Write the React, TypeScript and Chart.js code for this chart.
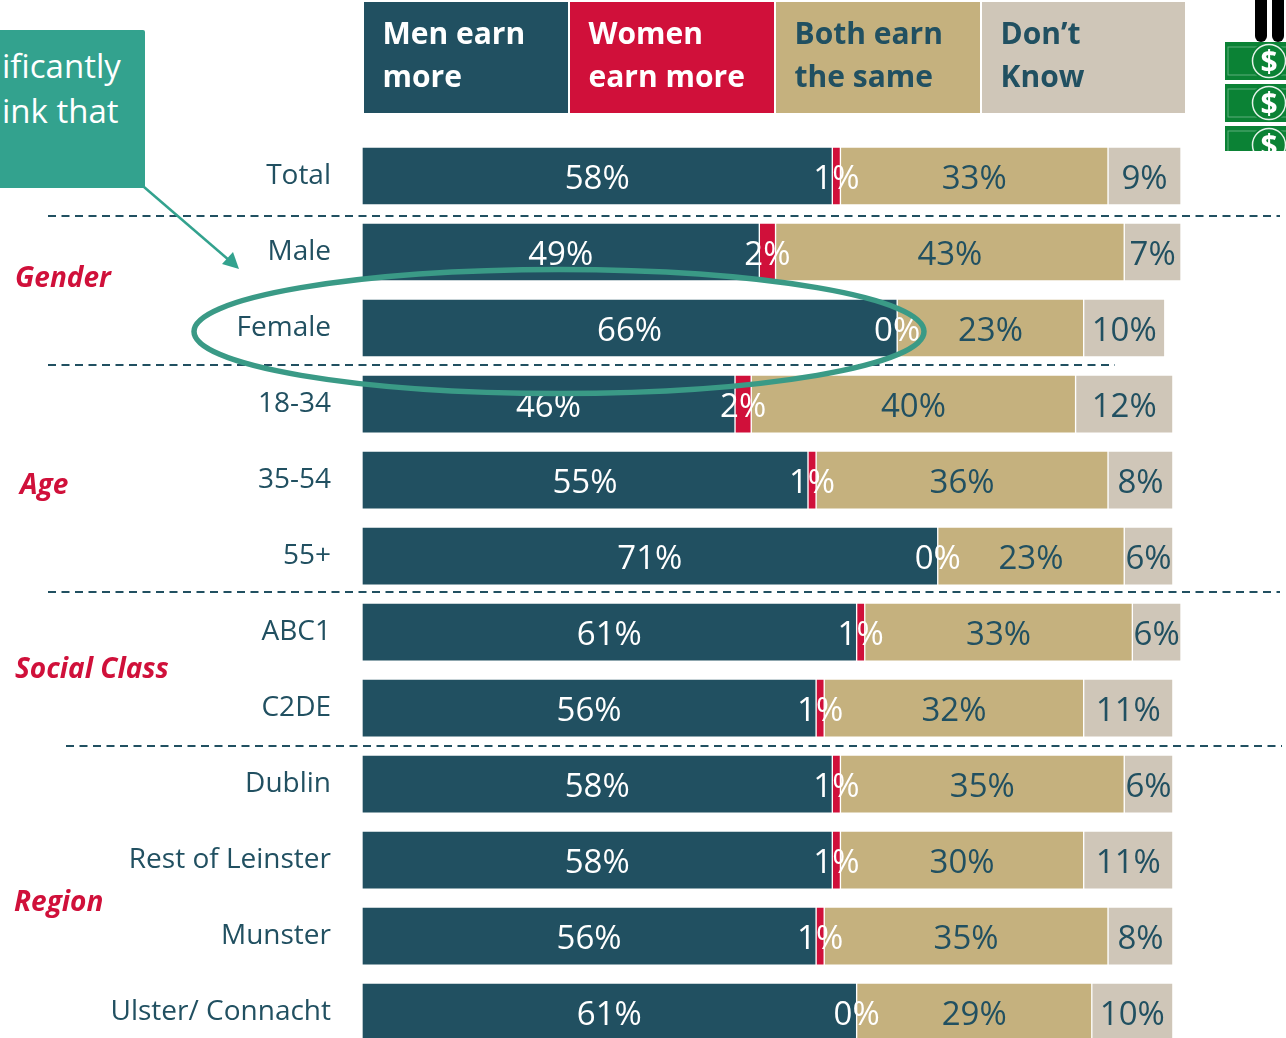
import React, { useEffect, useRef } from "react";
import { Chart, registerables } from "chart.js";

Chart.register(...registerables);

const categories = ["Total", "Male", "Female", "18-34", "35-54", "55+", "ABC1", "C2DE", "Dublin", "Rest of Leinster", "Munster", "Ulster/ Connacht"];
const menEarnMore = [58, 49, 66, 46, 55, 71, 61, 56, 58, 58, 56, 61];
const womenEarnMore = [1, 2, 0, 2, 1, 0, 1, 1, 1, 1, 1, 0];
const bothEarnSame = [33, 43, 23, 40, 36, 23, 33, 32, 35, 30, 35, 29];
const dontKnow = [9, 7, 10, 12, 8, 6, 6, 11, 6, 11, 8, 10];

const TEAL = "#215061";
const RED = "#d0103a";
const TAN = "#c5b17e";
const GREY = "#cfc6b8";
const GREEN = "#33a28e";
const RING = "#3a9a86";
const FONT = '"Open Sans", sans-serif';

const headers = [
  { lines: ["Men earn", "more"], bg: TEAL, fg: "#ffffff", left: 364, width: 204 },
  { lines: ["Women", "earn more"], bg: RED, fg: "#ffffff", left: 570, width: 204 },
  { lines: ["Both earn", "the same"], bg: TAN, fg: TEAL, left: 776, width: 204 },
  { lines: ["Don\u2019t", "Know"], bg: GREY, fg: TEAL, left: 982, width: 203 },
];
const groups = [
  { text: "Gender", left: 15, top: 276 },
  { text: "Age", left: 20, top: 483 },
  { text: "Social Class", left: 15, top: 667 },
  { text: "Region", left: 14, top: 900 },
];
const separators = [
  { y: 216, x1: 48, x2: 1280 },
  { y: 365, x1: 48, x2: 1115 },
  { y: 592, x1: 48, x2: 1280 },
  { y: 746, x1: 66, x2: 1282 },
];

const overlayPlugin = {
  id: "overlay",
  afterDatasetsDraw(chart: any) {
    const ctx = chart.ctx;
    ctx.save();
    // separators
    ctx.strokeStyle = TEAL;
    ctx.lineWidth = 1.8;
    ctx.setLineDash([8, 5.5]);
    separators.forEach((s) => {
      ctx.beginPath();
      ctx.moveTo(s.x1, s.y);
      ctx.lineTo(s.x2, s.y);
      ctx.stroke();
    });
    ctx.setLineDash([]);
    // value labels
    ctx.font = `33px ${FONT}`;
    ctx.textAlign = "center";
    ctx.textBaseline = "middle";
    chart.data.datasets.forEach((ds: any, i: number) => {
      const meta = chart.getDatasetMeta(i);
      ds.data.forEach((v: number, j: number) => {
        const el = meta.data[j];
        ctx.fillStyle = ds.labelColor;
        ctx.fillText(`${v}%`, (el.x + el.base) / 2, el.y + 3.5);
      });
    });
    // ring
    ctx.strokeStyle = RING;
    ctx.lineWidth = 5.5;
    ctx.beginPath();
    ctx.ellipse(559, 331.5, 365, 62, 0, 0, Math.PI * 2);
    ctx.stroke();
    // arrow
    ctx.strokeStyle = GREEN;
    ctx.fillStyle = GREEN;
    ctx.lineWidth = 2.5;
    ctx.beginPath();
    ctx.moveTo(144, 187);
    ctx.lineTo(230, 261);
    ctx.stroke();
    ctx.beginPath();
    ctx.moveTo(239, 269);
    ctx.lineTo(222, 264);
    ctx.lineTo(233, 252);
    ctx.closePath();
    ctx.fill();
    ctx.restore();
  },
};

function Bill({ y }: { y: number }) {
  return (
    <g>
      <rect x={1225} y={y} width={61} height={38} fill="#0b8235" />
      <rect x={1228} y={y + 5} width={60} height={28} fill="none" stroke="#5fae7c" strokeWidth={1} />
      <circle cx={1269} cy={y + 19} r={19} fill="#0b8235" />
      <circle cx={1269} cy={y + 19} r={16.5} fill="none" stroke="#e6f3ea" strokeWidth={1.5} />
      <text x={1269} y={y + 30} textAnchor="middle" fill="#ffffff" fontFamily={FONT} fontWeight={700} fontSize={30}>
        $
      </text>
    </g>
  );
}

export default function App() {
  const ref = useRef<HTMLCanvasElement>(null);

  useEffect(() => {
    document.body.style.margin = "0";
    const mk = (label: string, data: number[], bg: string, labelColor: string) => ({
      label,
      data,
      backgroundColor: bg,
      labelColor,
      borderColor: "#ffffff",
      borderWidth: 1,
      borderSkipped: false,
      barThickness: 58,
      stack: "a",
    });
    const chart = new Chart(ref.current as HTMLCanvasElement, {
      type: "bar",
      data: {
        labels: categories,
        datasets: [
          mk("Men earn more", menEarnMore, TEAL, "#ffffff"),
          mk("Women earn more", womenEarnMore, RED, "#ffffff"),
          mk("Both earn the same", bothEarnSame, TAN, TEAL),
          mk("Don\u2019t Know", dontKnow, GREY, TEAL),
        ] as any,
      },
      options: {
        indexAxis: "y",
        responsive: false,
        animation: false,
        layout: { padding: { top: 138, right: 105, left: 0, bottom: 0 } },
        plugins: { legend: { display: false }, tooltip: { enabled: false } },
        scales: {
          x: { stacked: true, display: false, min: 0, max: 101 },
          y: {
            stacked: true,
            grid: { display: false, drawTicks: false },
            border: { display: false },
            afterFit: (s: any) => {
              s.width = 362;
            },
            ticks: {
              color: TEAL,
              padding: 31,
              font: { family: '"Open Sans", sans-serif', size: 28 },
              autoSkip: false,
            },
          },
        },
      },
      plugins: [overlayPlugin],
    } as any);
    return () => chart.destroy();
  }, []);

  return (
    <div style={{ position: "relative", width: 1286, height: 1038, overflow: "hidden", background: "#fff", fontFamily: FONT }}>
      <canvas ref={ref} width={1286} height={1098} style={{ position: "absolute", left: 0, top: 0, display: "block" }} />
      {headers.map((h) => (
        <div
          key={h.left}
          style={{ position: "absolute", left: h.left, top: 2, width: h.width, height: 111, background: h.bg, color: h.fg, fontSize: 30, fontWeight: 700, lineHeight: "43px" }}
        >
          <div style={{ position: "absolute", left: 18.5, top: 9, whiteSpace: "nowrap" }}>
            {h.lines[0]}
            <br />
            {h.lines[1]}
          </div>
        </div>
      ))}
      <div style={{ position: "absolute", left: 0, top: 30, width: 145, height: 158, background: GREEN, borderTopRightRadius: 2, color: "#fff", fontSize: 33, lineHeight: "45px", overflow: "hidden" }}>
        <div style={{ position: "absolute", left: 2, top: 13, whiteSpace: "nowrap" }}>
          ificantly
          <br />
          ink that
        </div>
      </div>
      {groups.map((g) => (
        <div
          key={g.text}
          style={{ position: "absolute", left: g.left, top: g.top, transform: "translateY(-50%)", color: RED, fontSize: 28, fontWeight: 700, fontStyle: "italic", whiteSpace: "nowrap" }}
        >
          {g.text}
        </div>
      ))}
      <svg width={1286} height={160} style={{ position: "absolute", left: 0, top: 0, pointerEvents: "none" }}>
        <defs>
          <clipPath id="money">
            <rect x={1225} y={0} width={61} height={151} />
          </clipPath>
        </defs>
        <g clipPath="url(#money)">
          <rect x={1255} y={-10} width={12} height={52} rx={6} fill="#000" />
          <rect x={1272} y={-10} width={12} height={52} rx={6} fill="#000" />
          <Bill y={42} />
          <Bill y={84} />
          <Bill y={126} />
        </g>
      </svg>
    </div>
  );
}
